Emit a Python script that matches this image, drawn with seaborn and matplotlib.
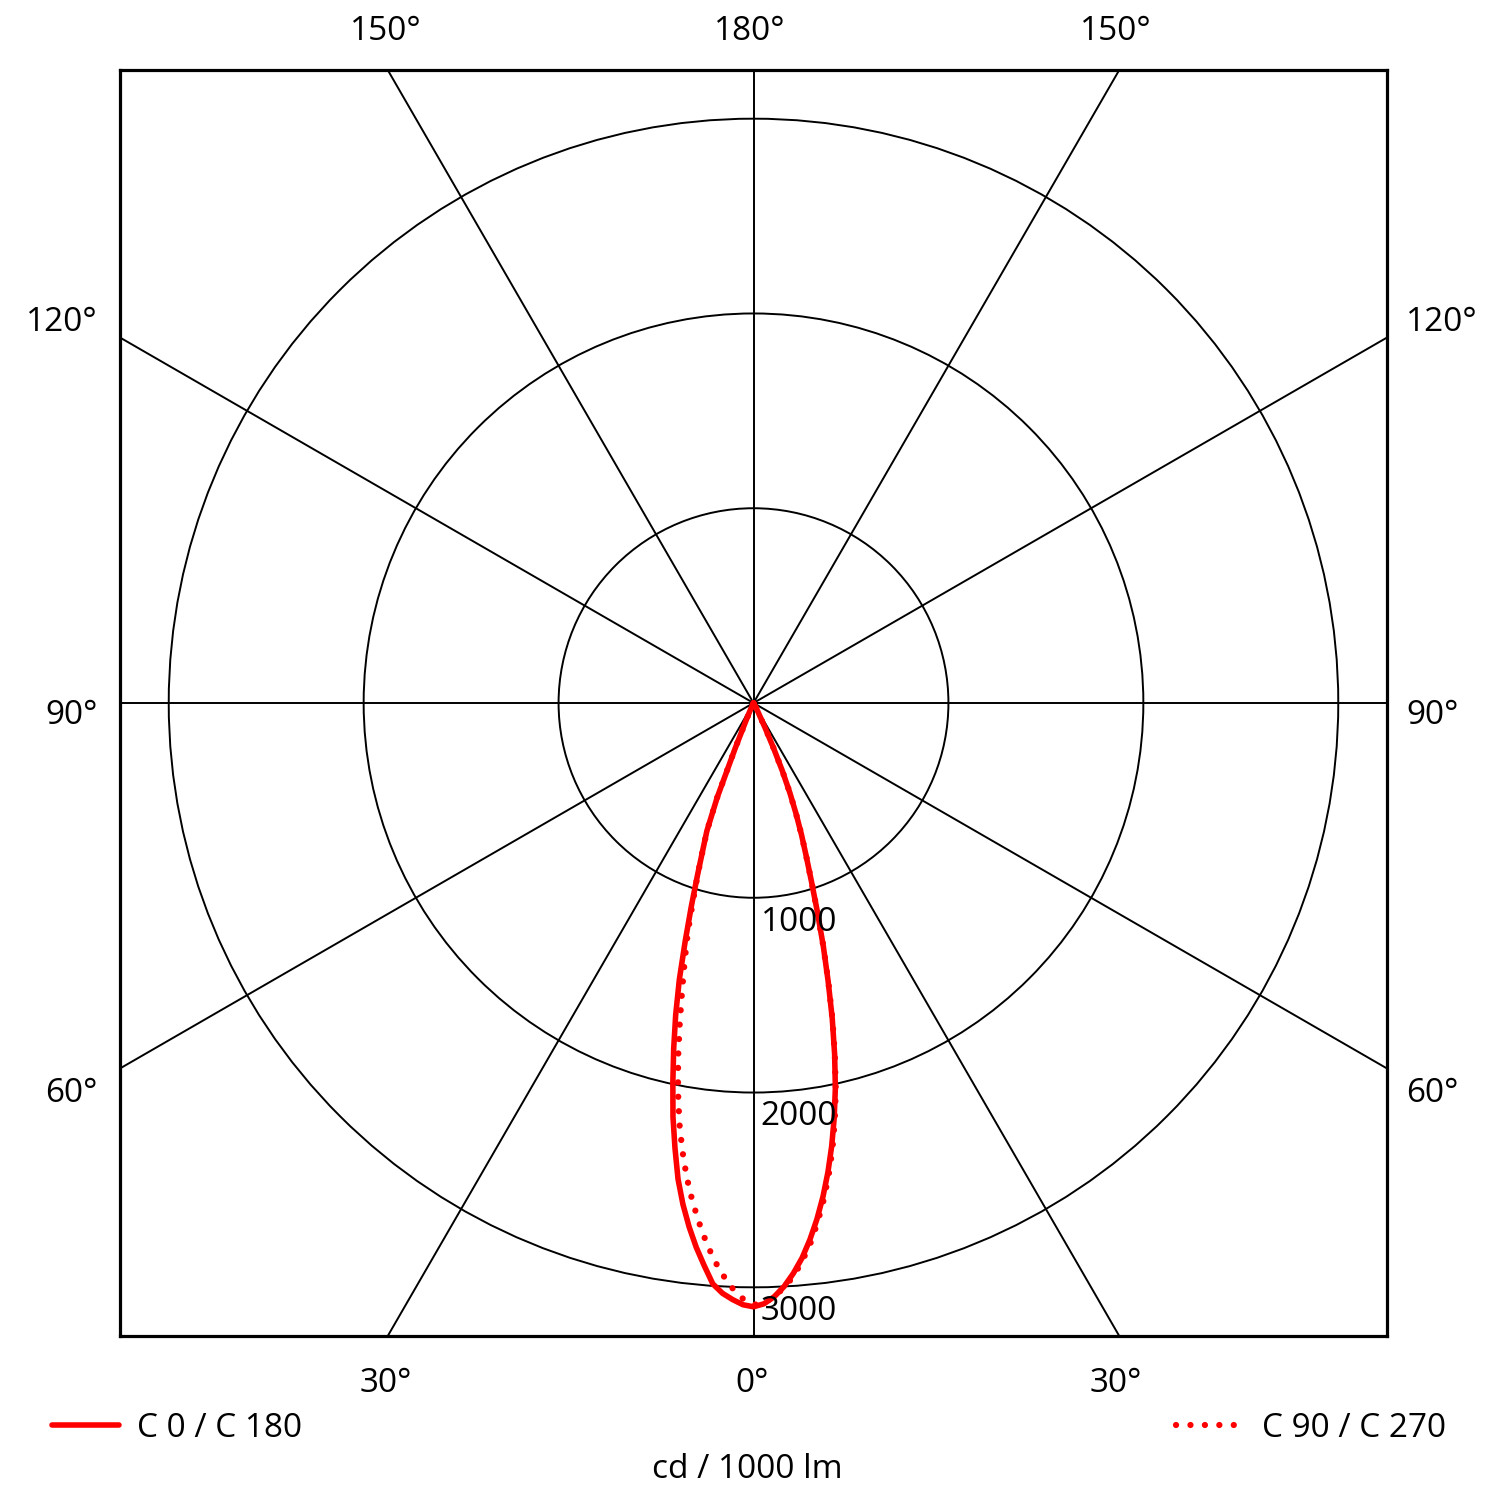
import numpy as np
import pandas as pd
import matplotlib
matplotlib.use("Agg")
import matplotlib.pyplot as plt
from matplotlib.patches import Circle
import seaborn as sns

# ---- data (cd / 1000 lm) ----
gamma = [0, 1, 2, 3, 4, 5, 6, 7, 8, 9, 10, 11, 12, 13, 14, 15, 16, 17, 18, 19, 20,
         21, 22, 23, 24, 25, 27.5, 30, 40, 50, 60, 70, 80, 90]
c0   = [3100, 3085, 3050, 3000, 2935, 2860, 2770, 2670, 2560, 2440, 2310, 2170, 2020, 1850, 1670,
        1480, 1300, 1120, 960, 830, 720, 610, 500, 380, 250, 140, 40, 10, 0, 0, 0, 0, 0, 0]
c180 = [3100, 3090, 3065, 3035, 2990, 2900, 2810, 2710, 2600, 2475, 2320, 2165, 1990, 1820, 1650,
        1470, 1270, 1090, 930, 800, 700, 520, 250, 100, 50, 25, 8, 0, 0, 0, 0, 0, 0, 0]
c90  = [3090, 3080, 3050, 3005, 2950, 2875, 2790, 2690, 2580, 2460, 2330, 2185, 2030, 1855, 1675,
        1485, 1300, 1120, 960, 830, 720, 610, 500, 380, 250, 140, 40, 10, 0, 0, 0, 0, 0, 0]
c270 = [3090, 3060, 3010, 2945, 2870, 2780, 2680, 2575, 2460, 2330, 2190, 2030, 1860, 1680, 1510,
        1360, 1220, 1060, 925, 800, 695, 520, 250, 100, 50, 25, 8, 0, 0, 0, 0, 0, 0, 0]

ring_values = [1000, 2000, 3000]
ring_labels = ["1000", "2000", "3000"]
spoke_angles = [0, 30, 60, 90, 120, 150]
legend_labels = ["C 0 / C 180", "C 90 / C 270"]
unit_label = "cd / 1000 lm"

# angle labels: (text, x_px, baseline_px, ha)
angle_labels = [
    ("150°", 386, 40, "center"), ("180°", 750, 40, "center"), ("150°", 1116, 40, "center"),
    ("120°", 98, 331, "right"), ("90°", 98, 724, "right"), ("60°", 98, 1102, "right"),
    ("120°", 1406, 331, "left"), ("90°", 1406, 724, "left"), ("60°", 1406, 1102, "left"),
    ("30°", 386, 1392, "center"), ("0°", 752, 1392, "center"), ("30°", 1116, 1392, "center"),
]


def curve_frame(left, right):
    g = np.radians(np.array(gamma, dtype=float))
    L = np.array(left, dtype=float)
    R = np.array(right, dtype=float)
    xl = -(L * np.sin(g))[::-1]
    yl = -(L * np.cos(g))[::-1]
    xr = R * np.sin(g)
    yr = -(R * np.cos(g))
    x = np.concatenate([xl, xr[1:]])
    y = np.concatenate([yl, yr[1:]])
    return pd.DataFrame({"x": x, "y": y, "order": np.arange(len(x))})


sns.set_theme(style="white")
plt.rcParams["font.family"] = ["Open Sans", "DejaVu Sans"]

W = H = 1500
fig = plt.figure(figsize=(15, 15), dpi=100)
fig.patch.set_facecolor("white")
ax = fig.add_axes([120 / W, 1 - 1336 / H, 1267 / W, 1266 / H])
ax.set_facecolor("white")

# grid: rings and spokes
for r in ring_values:
    ax.add_patch(Circle((0, 0), r, fill=False, color="black", lw=1.4, zorder=1))
for a in spoke_angles:
    t = np.radians(a)
    ax.axline((0, 0), (np.sin(t), np.cos(t)), color="black", lw=1.4, zorder=1)

# curves
df_solid = curve_frame(c180, c0)
df_dot = curve_frame(c270, c90)
sns.lineplot(data=df_solid, x="x", y="y", sort=False, estimator=None, color="#ff0000",
             lw=4.0, ax=ax, zorder=3, solid_joinstyle="round", solid_capstyle="round")
sns.lineplot(data=df_dot, x="x", y="y", sort=False, estimator=None, color="#ff0000",
             lw=4.5, ax=ax, zorder=4, linestyle=(0, (0.01, 2.3)), dash_capstyle="round")

fs = 24
for r, lab in zip(ring_values, ring_labels):
    ax.text(36, -(r + 169), lab, ha="left", va="baseline", fontsize=fs, color="black", zorder=5)

ax.set_xlim(-3250, 3250)
ax.set_ylim(-3250, 3250)
ax.set_xticks([])
ax.set_yticks([])
ax.set_xlabel("")
ax.set_ylabel("")
for s in ax.spines.values():
    s.set_visible(True)
    s.set_color("black")
    s.set_linewidth(2.3)

for txt, xp, yp, ha in angle_labels:
    fig.text(xp / W, 1 - yp / H, txt, ha=ha, va="baseline", fontsize=fs, color="black")

# legend
fig.add_artist(plt.Line2D([52 / W, 119 / W], [1 - 1425 / H, 1 - 1425 / H], color="#ff0000", lw=4.0,
                          solid_capstyle="round", transform=fig.transFigure))
fig.text(137 / W, 1 - 1437 / H, legend_labels[0], ha="left", va="baseline", fontsize=fs, color="black")
fig.add_artist(plt.Line2D([1176 / W, 1240 / W], [1 - 1425 / H, 1 - 1425 / H], color="#ff0000", lw=4.5,
                          linestyle=(0, (0.01, 2.3)), dash_capstyle="round", transform=fig.transFigure))
fig.text(1262 / W, 1 - 1437 / H, legend_labels[1], ha="left", va="baseline", fontsize=fs, color="black")
fig.text(747 / W, 1 - 1478 / H, unit_label, ha="center", va="baseline", fontsize=fs, color="black")

fig.savefig("out.png", dpi=100, facecolor="white")
